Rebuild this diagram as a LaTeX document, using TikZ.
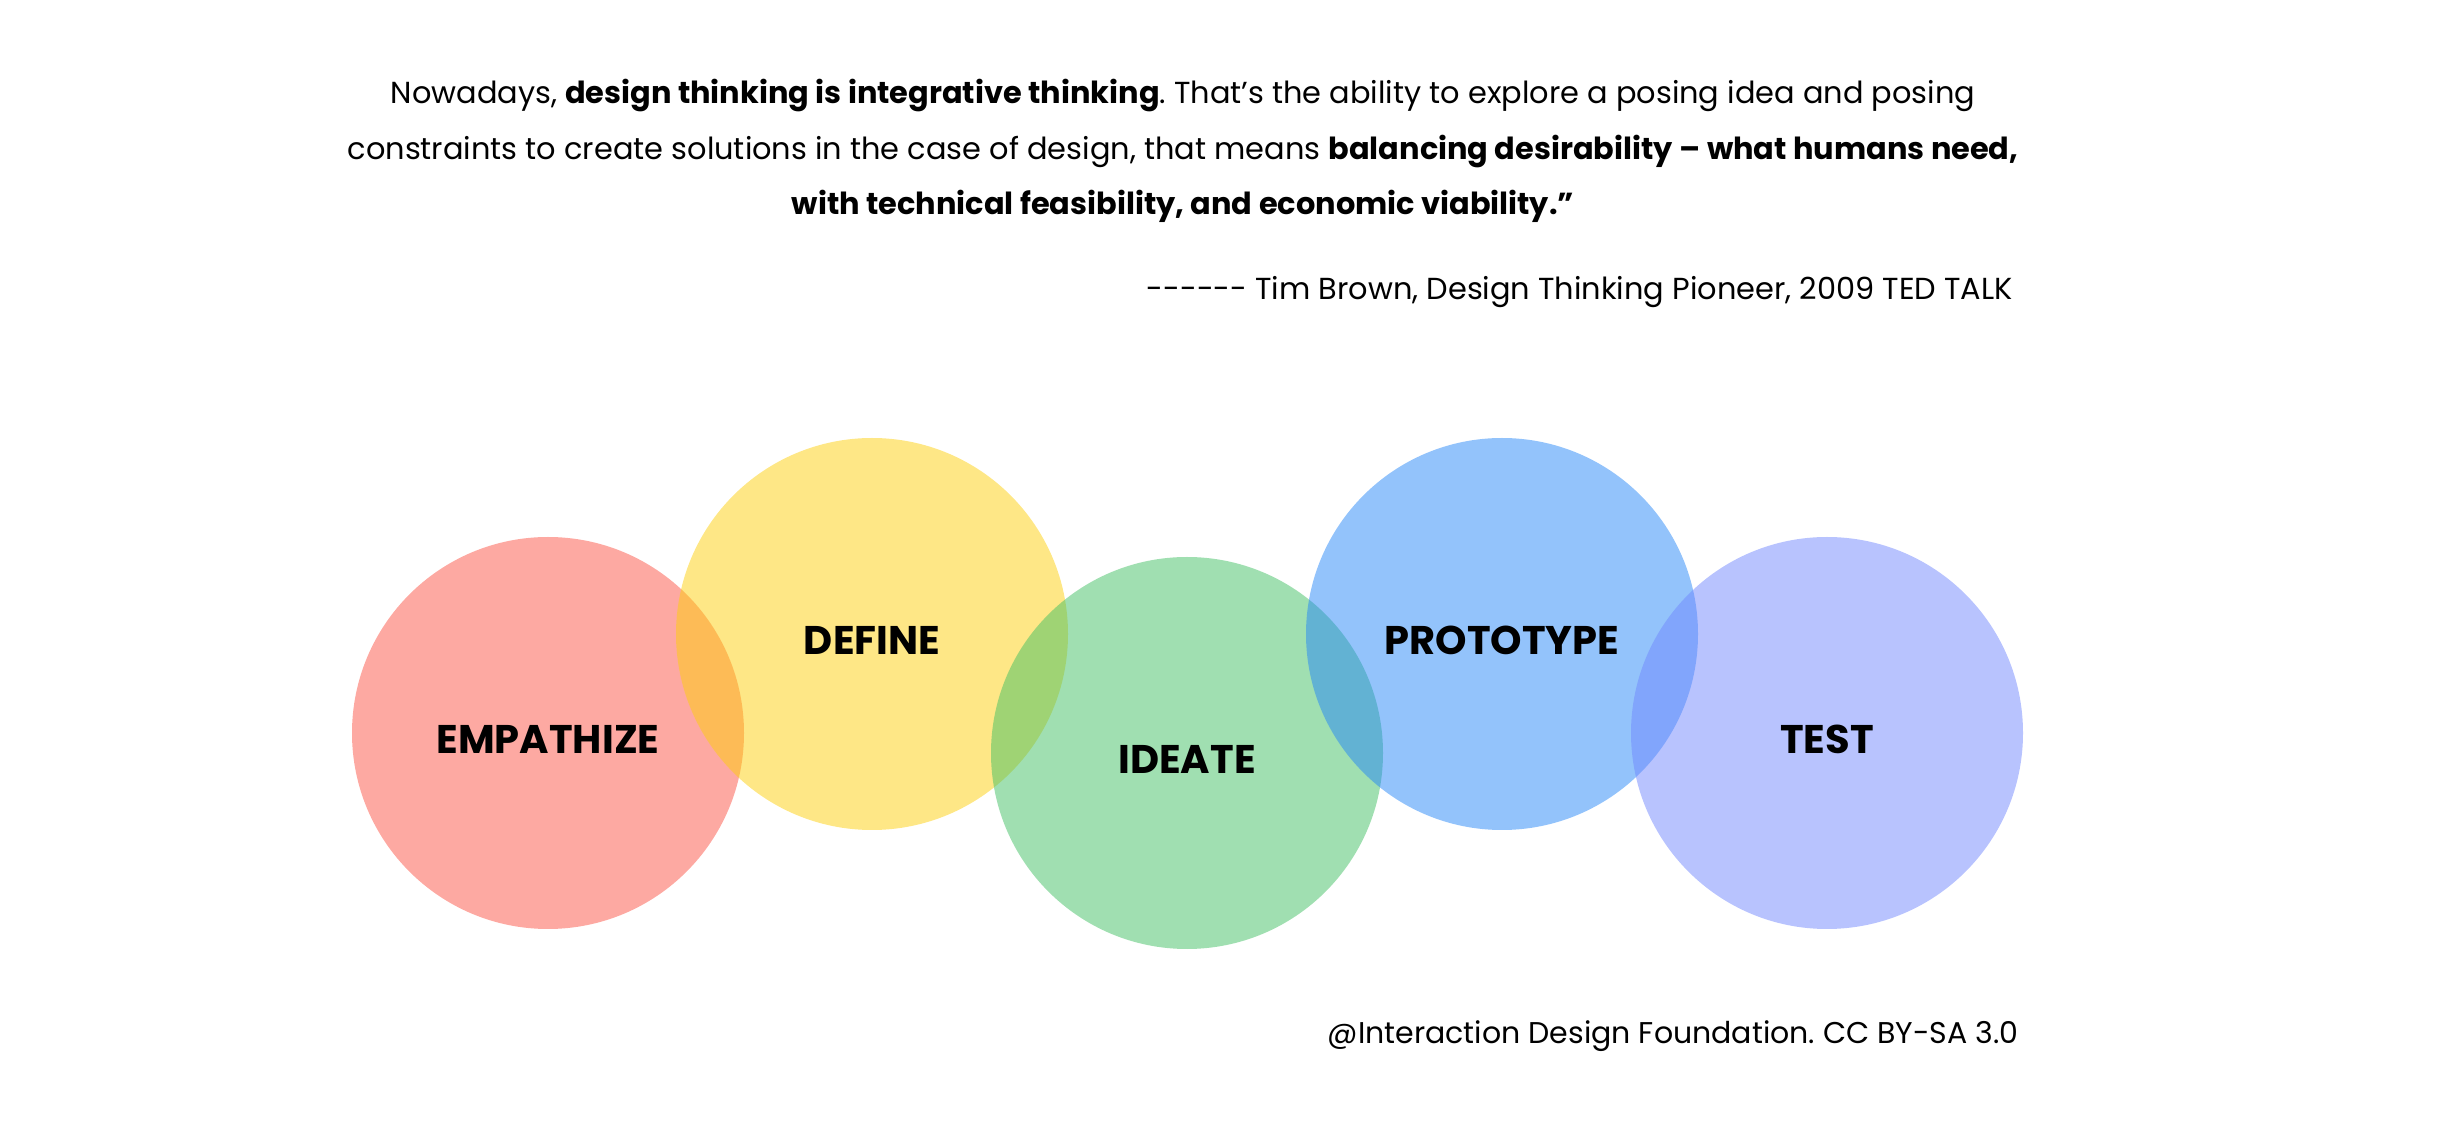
\documentclass[tikz,border=0pt]{standalone}
\usepackage{fontspec}
\setmainfont{Poppins}
\usetikzlibrary{positioning}
\definecolor{Rose}{RGB}{251,83,69}
\definecolor{Sun}{RGB}{253,207,13}
\definecolor{Mint}{RGB}{65,191,99}
\definecolor{Sky}{RGB}{39,135,247}
\definecolor{Iris}{RGB}{113,135,253}
\frenchspacing

\begin{document}
\begin{tikzpicture}[x=0.5pt,y=-0.5pt,
 stage/.style={circle,minimum size=196pt,inner sep=0pt,fill opacity=.5},
 lbl/.style={font=\fontsize{20}{22}\selectfont\bfseries,text=black},
 quote/.style={font=\fontsize{15.2}{27.75}\selectfont,align=center,inner sep=0pt}]
\useasboundingbox (0,0) rectangle (2464,1127);
% the quote
\node[quote] (q) at (1183,151) {Nowadays, \textbf{design thinking is integrative thinking}. That’s the ability to explore a posing idea and posing\\
constraints to create solutions in the case of design, that means \textbf{balancing desirability – what humans need,}\\
\textbf{with technical feasibility, and economic viability.”}};
\node[quote,anchor=east] (src) at (2013,292) {-{}-{}-{}-{}-{}- Tim Brown, Design Thinking Pioneer, 2009 TED TALK};
% the five stages
\node[stage,fill=Rose] (emp) at (548,733) {};
\node[stage,fill=Sun] (def) at (872,634) {};
\node[stage,fill=Mint] (ide) at (1187,753) {};
\node[stage,fill=Sky] (pro) at (1502,634) {};
\node[stage,fill=Iris] (tst) at (1827,733) {};
\node[lbl] (empL) at ([yshift=-3pt]emp.center) {EMPATHIZE};
\node[lbl] (defL) at ([yshift=-3pt]def.center) {DEFINE};
\node[lbl] (ideL) at ([yshift=-3pt]ide.center) {IDEATE};
\node[lbl] (proL) at ([yshift=-3pt]pro.center) {PROTOTYPE};
\node[lbl] (tstL) at ([yshift=-3pt]tst.center) {TEST};
% credit
\node[quote,anchor=east,font=\fontsize{15}{17}\selectfont] (cred) at (2019,1036) {@Interaction Design Foundation. CC BY-SA 3.0};
\end{tikzpicture}
\end{document}
